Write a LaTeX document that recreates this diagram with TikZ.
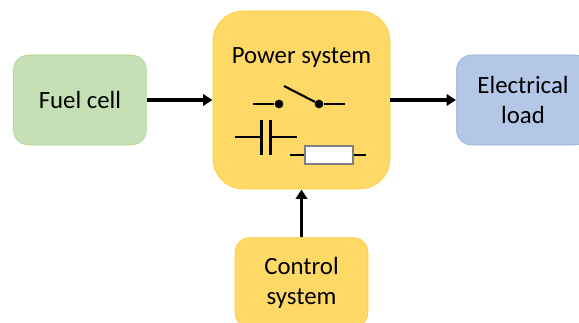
\documentclass[tikz,border=0pt]{standalone}
\usepackage{fontspec}
\setmainfont{Carlito}
\usepackage{tikz}
\usetikzlibrary{positioning,arrows.meta}
\definecolor{cellgreen}{HTML}{C5E0B4}
\definecolor{cellline}{HTML}{A9D18E}
\definecolor{sysyellow}{HTML}{FFD966}
\definecolor{sysline}{HTML}{FFC83D}
\definecolor{loadblue}{HTML}{B4C7E7}
\definecolor{loadline}{HTML}{8FAADC}
\tikzset{
  block/.style={draw,rounded corners=11.25pt,minimum width=99.75pt,minimum height=67.5pt,align=center,font=\fontsize{18.6}{22.6}\selectfont,inner sep=0pt},
  flow/.style={-{Triangle[length=7pt,width=8.5pt]},line width=2.6pt,shorten >=0.2pt},
  wire/.style={line width=1.6pt},
  pin/.style={circle,fill=black,inner sep=0pt,minimum size=6.5pt}
}

\begin{document}
\begin{tikzpicture}[x=0.75pt,y=-0.75pt]
   \clip (0,0) rectangle (579,323);
   \node[block,fill=sysyellow,draw=sysline,minimum width=132.75pt,minimum height=133.5pt,rounded corners=22.5pt] (power) at (301.5,100) {};
   \node[block,fill=cellgreen,draw=cellline,left=49.5pt of power] (fuel) {Fuel cell};
   \node[block,fill=loadblue,draw=loadline,right=49.5pt of power] (load) {Electrical\\load};
   \node[block,fill=sysyellow,draw=sysline,below=36pt of power] (control) {Control\\system};
   \node[font=\fontsize{18.6}{22.6}\selectfont] (title) at (301.5,58) {Power system};
   \draw[flow] (fuel) -- (power);
   \draw[flow] (power) -- (load);
   \draw[flow] (control) -- (power);
   % switch
   \node[pin] (s1) at (279,104) {};
   \node[pin] (s2) at (319,104) {};
   \coordinate (s1end) at (253,104);
   \coordinate (s2end) at (345,104);
   \coordinate (blade) at (284,86);
   \draw[wire] (s1end) -- (s1);
   \draw[wire] (s2) -- (s2end);
   \draw[wire] (blade) -- (s2);
   % capacitor
   \coordinate (c1end) at (235,137);
   \coordinate (c1) at (261.5,137);
   \coordinate (c2) at (270.5,137);
   \coordinate (c2end) at (297,137);
   \draw[wire] (c1end) -- (c1);
   \draw[wire] (c2) -- (c2end);
   \draw[wire] (261.5,120) -- (261.5,155);
   \draw[wire] (270.5,120) -- (270.5,155);
   % resistor
   \node[draw=gray,fill=white,line width=0.8pt,minimum width=36pt,minimum height=13.5pt,inner sep=0pt] (res) at (329,155) {};
   \coordinate (r1end) at (290,155);
   \coordinate (r2end) at (366,155);
   \draw[wire] (r1end) -- (res);
   \draw[wire] (res) -- (r2end);
\end{tikzpicture}
\end{document}
